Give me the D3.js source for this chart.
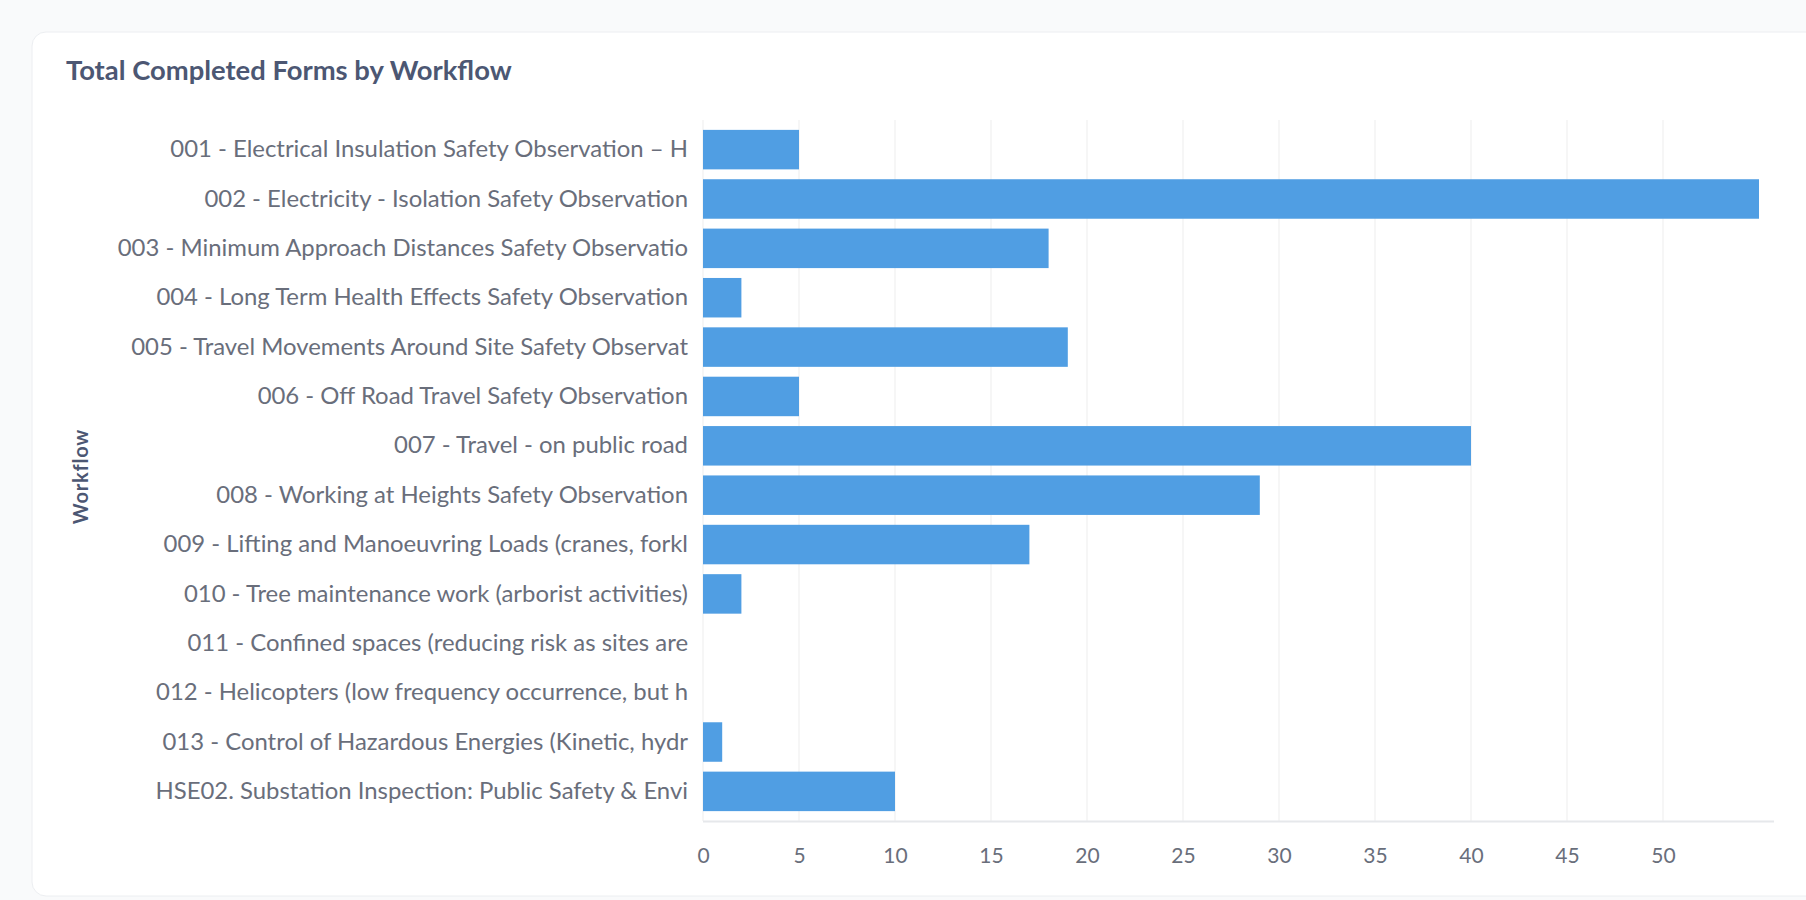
<!DOCTYPE html>
<html>
<head>
<meta charset="utf-8">
<script src="https://cdn.jsdelivr.net/npm/d3@7"></script>
<style>
  html, body { margin: 0; padding: 0; background: #f9fafb; }
  svg { display: block; }
</style>
</head>
<body>
<svg id="chart" width="1806" height="900"></svg>
<script>
const categories = [
  "001 - Electrical Insulation Safety Observation – H",
  "002 - Electricity - Isolation Safety Observation",
  "003 - Minimum Approach Distances Safety Observatio",
  "004 - Long Term Health Effects Safety Observation",
  "005 - Travel Movements Around Site Safety Observat",
  "006 - Off Road Travel Safety Observation",
  "007 - Travel - on public road",
  "008 - Working at Heights Safety Observation",
  "009 - Lifting and Manoeuvring Loads (cranes, forkl",
  "010 - Tree maintenance work (arborist activities)",
  "011 - Confined spaces (reducing risk as sites are",
  "012 - Helicopters (low frequency occurrence, but h",
  "013 - Control of Hazardous Energies (Kinetic, hydr",
  "HSE02. Substation Inspection: Public Safety & Envi"
];
const values = [5, 55, 18, 2, 19, 5, 40, 29, 17, 2, 0, 0, 1, 10];
const xTicks = [0, 5, 10, 15, 20, 25, 30, 35, 40, 45, 50];
const title = "Total Completed Forms by Workflow";
const yAxisTitle = "Workflow";

const svg = d3.select("#chart");

// card
svg.append("rect")
  .attr("x", 32).attr("y", 32)
  .attr("width", 1806).attr("height", 864)
  .attr("rx", 14).attr("ry", 14)
  .attr("fill", "#ffffff")
  .attr("stroke", "#eceef1")
  .attr("stroke-width", 1);

svg.append("text")
  .attr("x", 66).attr("y", 80)
  .attr("font-family", "Lato")
  .attr("font-weight", 700)
  .attr("font-size", 27.4)
  .attr("fill", "#4c5773")
  .text(title);

const plotLeft = 703, plotTop = 120, plotBottom = 821;
const x = d3.scaleLinear().domain([0, 55]).range([plotLeft, 1759]);
const y = d3.scaleBand().domain(categories).range([plotTop, plotBottom])
  .paddingInner(0.2).paddingOuter(0.2);

// gridlines
svg.append("g").selectAll("line")
  .data(xTicks)
  .join("line")
  .attr("x1", d => x(d)).attr("x2", d => x(d))
  .attr("y1", plotTop).attr("y2", plotBottom)
  .attr("stroke", "#ededed")
  .attr("stroke-width", 1);

// bars
svg.append("g").selectAll("rect")
  .data(values)
  .join("rect")
  .attr("x", x(0))
  .attr("y", (d, i) => y(categories[i]))
  .attr("width", d => x(d) - x(0))
  .attr("height", y.bandwidth())
  .attr("fill", "#509ee3");

// x axis line
svg.append("line")
  .attr("x1", plotLeft).attr("x2", 1774)
  .attr("y1", plotBottom + 0.5).attr("y2", plotBottom + 0.5)
  .attr("stroke", "#e6e8eb")
  .attr("stroke-width", 2);

// x axis
const xAxis = d3.axisBottom(x).tickValues(xTicks).tickSize(0).tickPadding(0);
const gx = svg.append("g").attr("transform", `translate(0,${plotBottom + 42})`).call(xAxis);
gx.select(".domain").remove();
gx.selectAll("text")
  .attr("font-family", "Lato")
  .attr("font-size", 21)
  .attr("fill", "#696e7b")
  .attr("dy", "0");

// y axis
const yAxis = d3.axisLeft(y).tickSize(0).tickPadding(15);
const gy = svg.append("g").attr("transform", `translate(${plotLeft},0)`).call(yAxis);
gy.select(".domain").remove();
gy.selectAll("text")
  .attr("font-family", "Lato")
  .attr("font-size", 23.9)
  .attr("fill", "#696e7b");

// y axis title
svg.append("text")
  .attr("transform", `translate(83,${(plotTop + plotBottom) / 2 + 6}) rotate(-90)`)
  .attr("text-anchor", "middle")
  .attr("dominant-baseline", "middle")
  .attr("font-family", "Lato")
  .attr("font-weight", 700)
  .attr("font-size", 20)
  .attr("letter-spacing", 0.8)
  .attr("fill", "#4c5773")
  .text(yAxisTitle);
</script>
</body>
</html>
